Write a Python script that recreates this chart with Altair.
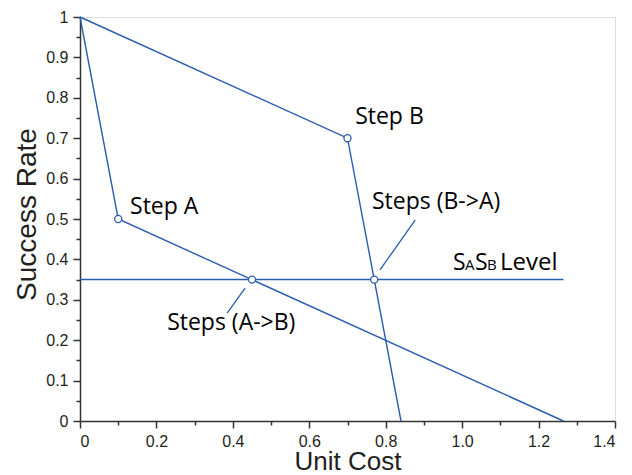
import altair as alt
import pandas as pd

# ---- data ----
lineA_x = [0.0, 0.1, 1.265]
lineA_y = [1.0, 0.5, 0.0]
lineB_x = [0.0, 0.7, 0.84]
lineB_y = [1.0, 0.7, 0.0]
level_x = [0.0, 1.265]
level_y = [0.35, 0.35]
pts_x = [0.1, 0.7, 0.45, 0.77]
pts_y = [0.5, 0.7, 0.35, 0.35]
leader_x = [0.432, 0.785]
leader_y = [0.329, 0.374]
leader_x2 = [0.385, 0.877]
leader_y2 = [0.267, 0.497]
label_text = ["Step A", "Step B", "Steps (A->B)", "Steps (B->A)"]
label_x = [0.131, 0.72, 0.228, 0.764]
label_y = [0.53, 0.752, 0.243, 0.542]
x_major = [0, 0.2, 0.4, 0.6, 0.8, 1.0, 1.2, 1.4]
x_minor = [0.1, 0.3, 0.5, 0.7, 0.9, 1.1, 1.3]
y_major = [0, 0.1, 0.2, 0.3, 0.4, 0.5, 0.6, 0.7, 0.8, 0.9, 1.0]
y_minor = [0.05, 0.15, 0.25, 0.35, 0.45, 0.55, 0.65, 0.75, 0.85, 0.95]

BLUE = "#2a5db0"
DARK = "#231f20"
FONT = "Open Sans"

rows = []
for name, xs_, ys_ in [("A", lineA_x, lineA_y), ("B", lineB_x, lineB_y)]:
    for i, (x, y) in enumerate(zip(xs_, ys_)):
        rows.append({"series": name, "order": i, "x": x, "y": y})
lines_df = pd.DataFrame(rows)
level_df = pd.DataFrame({"x": [level_x[0]], "x2": [level_x[1]], "y": [level_y[0]]})
pts_df = pd.DataFrame({"x": pts_x, "y": pts_y})
lead_df = pd.DataFrame({"x": leader_x, "y": leader_y, "x2": leader_x2, "y2": leader_y2})
lab_df = pd.DataFrame({"t": label_text, "x": label_x, "y": label_y})

xs = alt.Scale(domain=[0, 1.4], nice=False, zero=False)
ys = alt.Scale(domain=[0, 1], nice=False, zero=False)

x_axis = alt.Axis(values=x_major, orient="bottom", title="Unit Cost",
                  labelExpr="datum.value == 0 ? '0' : format(datum.value, '.1f')",
                  grid=False, tickSize=7, labelPadding=5,
                  titleY=48, titleBaseline="alphabetic",
                  titleFontSize=26, titleFont="Liberation Sans", titleFontWeight="normal",
                  titleColor=DARK, labelFont="Liberation Sans", labelFontSize=16,
                  labelColor=DARK, domainColor="#333333", tickColor="#333333",
                  domainWidth=1.5, tickWidth=1.5)
y_axis = alt.Axis(values=y_major, orient="left", title="Success Rate",
                  labelExpr="format(datum.value, '~g')",
                  grid=False, tickSize=7, labelPadding=5,
                  titleX=-45, titleY=197, titleBaseline="alphabetic",
                  titleFontSize=28, titleFont="Liberation Sans", titleFontWeight="normal",
                  titleColor=DARK, labelFont="Liberation Sans", labelFontSize=16,
                  labelColor=DARK, domainColor="#333333", tickColor="#333333",
                  domainWidth=1.5, tickWidth=1.5)
x_minor_axis = alt.Axis(values=x_minor, orient="bottom", title=None, labels=False,
                        domain=False, grid=False, tickSize=4, tickColor="#333333", tickWidth=1.5)
y_minor_axis = alt.Axis(values=y_minor, orient="left", title=None, labels=False,
                        domain=False, grid=False, tickSize=4, tickColor="#333333", tickWidth=1.5)

lines = alt.Chart(lines_df).mark_line(color=BLUE, strokeWidth=1.4).encode(
    x=alt.X("x:Q", scale=xs, axis=x_axis),
    y=alt.Y("y:Q", scale=ys, axis=y_axis),
    detail="series:N",
    order="order:Q",
)

minor = alt.Chart(pts_df).mark_point(opacity=0).encode(
    x=alt.X("x:Q", scale=xs, axis=x_minor_axis),
    y=alt.Y("y:Q", scale=ys, axis=y_minor_axis),
)

level = alt.Chart(level_df).mark_rule(color=BLUE, strokeWidth=1.5).encode(
    x=alt.X("x:Q", scale=xs, axis=None), x2="x2:Q",
    y=alt.Y("y:Q", scale=ys, axis=None),
)

leaders = alt.Chart(lead_df).mark_rule(color=BLUE, strokeWidth=1.3).encode(
    x=alt.X("x:Q", scale=xs, axis=None), y=alt.Y("y:Q", scale=ys, axis=None),
    x2="x2:Q", y2="y2:Q",
)

points = alt.Chart(pts_df).mark_point(shape="circle", filled=True, fill="white",
                                      stroke=BLUE, strokeWidth=1.3, size=50, opacity=1).encode(
    x=alt.X("x:Q", scale=xs, axis=None), y=alt.Y("y:Q", scale=ys, axis=None),
)

labels = alt.Chart(lab_df).mark_text(align="left", baseline="middle", font=FONT,
                                     fontSize=23, color="black").encode(
    x=alt.X("x:Q", scale=xs, axis=None), y=alt.Y("y:Q", scale=ys, axis=None),
    text="t:N",
)

# S_A S_B Level label, built from parts
lvl_x = [0.976]
lvl_y = [0.394]
lvl_df = pd.DataFrame({"x": lvl_x, "y": lvl_y})
parts = [("S", 23, 0), ("A", 15, 12), ("S", 23, 22), ("B", 15, 34), ("Level", 24, 47)]
lvl_layers = []
for txt, fs, dx in parts:
    lvl_layers.append(
        alt.Chart(lvl_df).mark_text(align="left", baseline="alphabetic", font=FONT,
                                    fontSize=fs, color="black", dx=dx, dy=8, text=txt).encode(
            x=alt.X("x:Q", scale=xs, axis=None), y=alt.Y("y:Q", scale=ys, axis=None))
    )

chart = alt.layer(lines, minor, level, leaders, points, labels, *lvl_layers).resolve_axis(
    x="independent", y="independent"
).properties(
    width=535, height=404,
    autosize=alt.AutoSizeParams(type="none"),
    padding={"left": 72, "top": 9, "right": 9, "bottom": 54},
).configure_view(stroke=None).configure(background="white")

chart.save("out.html", embed_options={"renderer": "svg", "actions": False})
